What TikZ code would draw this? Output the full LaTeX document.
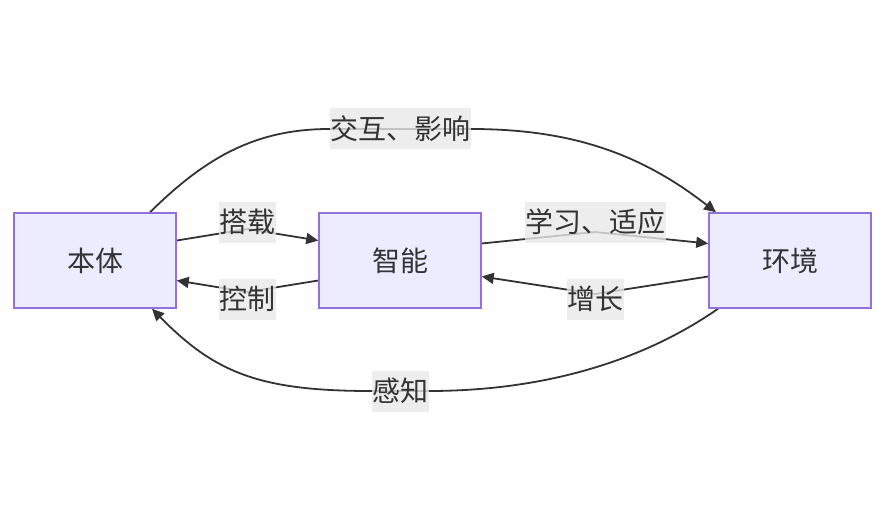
\documentclass[tikz,border=0pt]{standalone}
\usepackage{fontspec}
\setmainfont{Noto Sans CJK SC}
\usetikzlibrary{arrows.meta,backgrounds}
\definecolor{boxfill}{HTML}{ECECFF}
\definecolor{boxline}{HTML}{9370DB}
\definecolor{edgecol}{HTML}{333333}
\definecolor{lblbg}{HTML}{E8E8E8}
\definecolor{txt}{HTML}{333333}
\tikzset{
  box/.style={draw=boxline, fill=boxfill, line width=1.5pt, minimum width=162pt, minimum height=95pt, inner sep=0pt,
    font=\fontsize{28pt}{42pt}\selectfont, text=txt, text height=24.6pt, text depth=3.4pt},
  lbl/.style={fill=lblbg, fill opacity=0.8, text opacity=1, inner xsep=0.5pt, inner ysep=0pt, minimum height=41pt,
    font=\fontsize{28pt}{42pt}\selectfont, text=txt, text height=24.6pt, text depth=3.4pt},
  edge/.style={draw=edgecol, line width=1.8pt},
  arr/.style={edge, -{Triangle[length=12pt,width=11pt]}}
}
\begin{document}
\begin{tikzpicture}[x=1pt,y=1pt]
\useasboundingbox (0,0) rectangle (885,523);
\node[box] (ben) at (95,262.5) {本体};
\node[box] (zhi) at (400,262.5) {智能};
\node[box] (env) at (790,262.5) {环境};
\node[lbl] (l1) at (247.5,301) {搭载};
\node[lbl] (l2) at (247.5,224) {控制};
\node[lbl] (l3) at (595,301) {学习、适应};
\node[lbl] (l4) at (595.5,224) {增长};
\node[lbl] (l5) at (400,394) {交互、影响};
\node[lbl] (l6) at (400,132) {感知};
\begin{scope}[on background layer]
\draw[arr] ([yshift=20pt]ben.east) -- ([yshift=-7pt]l1.center) -- ([yshift=20pt]zhi.west);
\draw[arr] ([yshift=-20pt]zhi.west) -- ([yshift=7pt]l2.center) -- ([yshift=-20pt]ben.east);
\draw[arr] ([yshift=17pt]zhi.east) -- ([yshift=-10pt]l3.center) -- ([yshift=17pt]env.west);
\draw[arr] ([yshift=-16pt]env.west) -- ([yshift=5pt]l4.center) -- ([yshift=-16pt]zhi.east);
\draw[arr] ([xshift=55pt]ben.north) .. controls (205,365) and (255,394) .. (l5.west) -- (l5.east)
  .. controls (570,394) and (640,370) .. ([xshift=-74pt]env.north);
\draw[arr] ([xshift=-72pt]env.south) .. controls (640,160) and (540,132) .. (l6.east) -- (l6.west)
  .. controls (260,132) and (215,150) .. ([xshift=57pt]ben.south);
\end{scope}
\end{tikzpicture}
\end{document}
